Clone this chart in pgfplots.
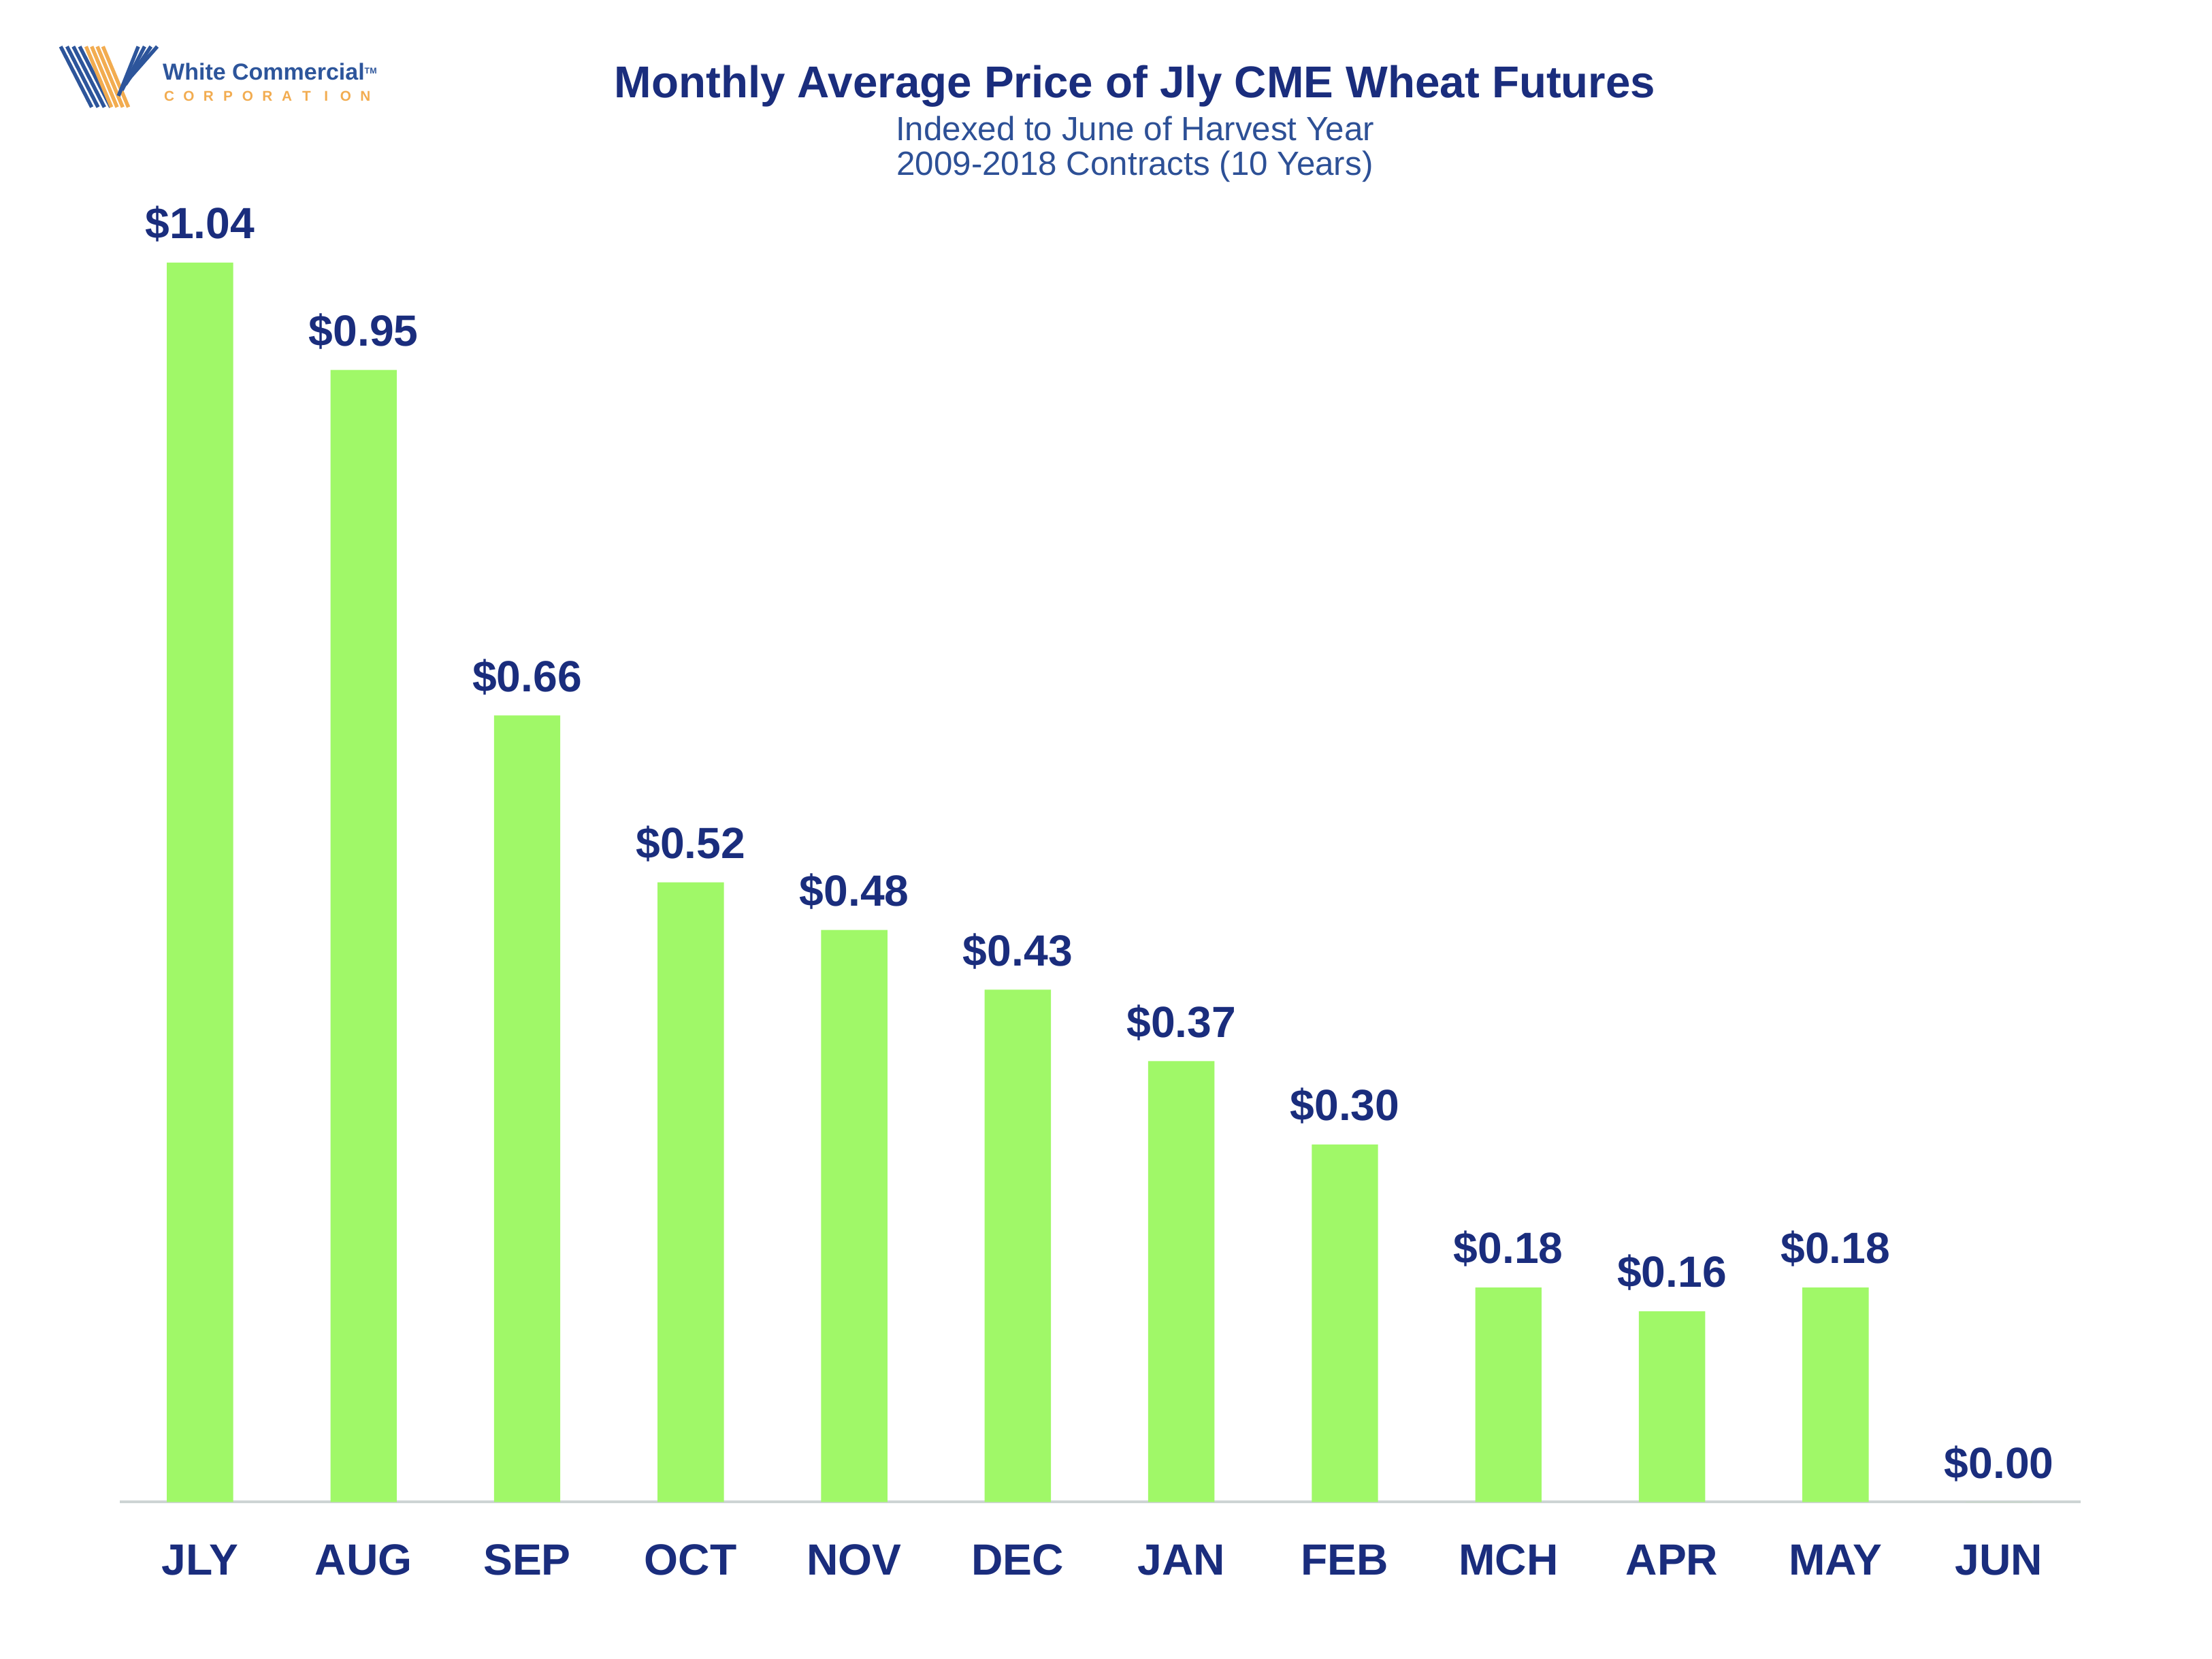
\documentclass[border=0pt]{standalone}
\usepackage{pgfplots}
\pgfplotsset{compat=1.18}
\usepackage{fontspec}
\setmainfont{Liberation Sans}

\definecolor{navy}{RGB}{26,45,125}
\definecolor{subblue}{RGB}{45,80,150}
\definecolor{logoblue}{RGB}{45,85,155}
\definecolor{logoorange}{RGB}{242,172,80}
\definecolor{bargreen}{RGB}{160,248,104}
\definecolor{axisgray}{RGB}{205,212,212}

\begin{document}
\begin{tikzpicture}
\useasboundingbox[fill=white] (0,0) rectangle (784pt,588pt);

% header and logo, placed in the reference's (shrunk) pixel coordinates
\begin{scope}[shift={(0pt,588pt)}, x=0.5pt, y=-0.5pt]
  \foreach \o in {0,4.5,9,13.5}
    \draw[logoblue, line width=1.3pt] (43+\o,33) -- (65+\o,76);
  \foreach \o in {0,4,8,12}
    \draw[logoorange, line width=1.3pt] (61+\o,33) -- (79+\o,76);
  \foreach \o in {0,4.5,9,13.5}
    \draw[logoblue, line width=1.3pt] (84+\o*0.55,68-\o*0.9) -- (98+\o,33);
  \node[anchor=west, inner sep=0, text=logoblue, font=\fontsize{8.2}{9}\selectfont\bfseries]
    at (115,51) {White Commercial\raisebox{0.5ex}{\fontsize{3}{3}\selectfont TM}};
  \foreach \l [count=\i from 0] in {C,O,R,P,O,R,A,T,I,O,N}
    \node[inner sep=0, text=logoorange, font=\fontsize{5}{5}\selectfont\bfseries]
      at (120+13.9*\i,68) {\l};

  \node[text=navy, font=\fontsize{15.8}{18}\selectfont\bfseries] at (804.5,61)
    {Monthly Average Price of Jly CME Wheat Futures};
  \node[text=subblue, font=\fontsize{11.9}{13}\selectfont] at (804.5,91)
    {Indexed to June of Harvest Year};
  \node[text=subblue, font=\fontsize{11.9}{13}\selectfont] at (804.5,118)
    {2009-2018 Contracts (10 Years)};
\end{scope}

\begin{axis}[
  at={(42.5pt,55.5pt)}, anchor=south west,
  scale only axis, width=695pt, height=507pt,
  xmin=-0.49, xmax=11.5, ymin=0, ymax=1.2,
  axis x line*=bottom, axis y line=none,
  x axis line style={-, draw=axisgray, line width=1pt},
  xtick={0,...,11},
  xticklabels={JLY,AUG,SEP,OCT,NOV,DEC,JAN,FEB,MCH,APR,MAY,JUN},
  major tick length=0pt,
  xticklabel style={anchor=center, yshift=-20.5pt, text=navy,
    font=\fontsize{15.5}{18}\selectfont\bfseries},
  ytick=\empty,
  ybar, bar width=23.5pt,
  nodes near coords={\$\pgfmathprintnumber[fixed,fixed zerofill,precision=2,assume math mode=true]{\pgfplotspointmeta}},
  nodes near coords style={anchor=base, yshift=8.5pt, text=navy,
    font=\fontsize{15.5}{18}\selectfont\bfseries},
  clip=false,
]
\addplot[fill=bargreen, draw=none] coordinates {
  (0,1.04) (1,0.95) (2,0.66) (3,0.52) (4,0.48) (5,0.43)
  (6,0.37) (7,0.30) (8,0.18) (9,0.16) (10,0.18) (11,0.00)
};
\end{axis}
\end{tikzpicture}
\end{document}
